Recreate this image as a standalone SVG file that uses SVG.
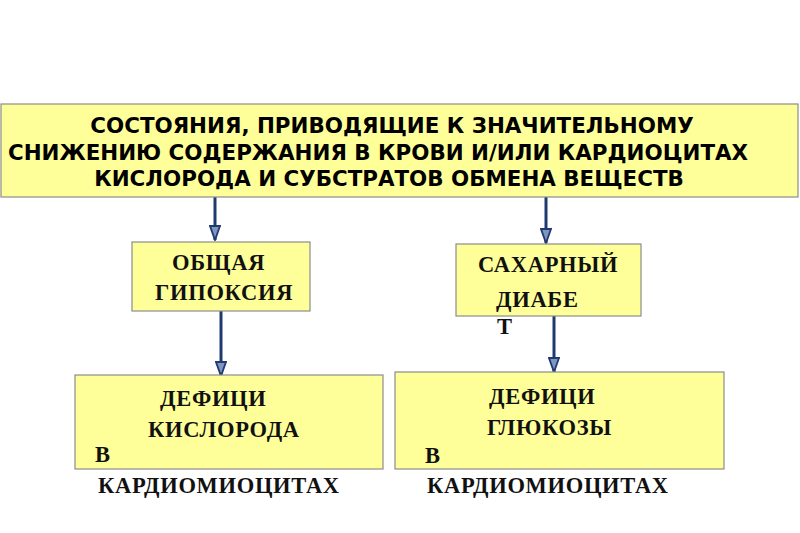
<svg xmlns="http://www.w3.org/2000/svg" width="800" height="533" viewBox="0 0 800 533">
<defs>
<style>
.box{fill:#FFFF99;stroke:#8C8C8C;stroke-width:1.2}
.hdr{font-family:"DejaVu Sans",Verdana,sans-serif;font-weight:bold;font-size:21.4px;fill:#000}
.t{font-family:"Liberation Serif","Times New Roman",serif;font-weight:bold;font-size:22.5px;fill:#111;letter-spacing:0.7px}
.c{stroke:#1F3A6E;stroke-width:3;fill:none;marker-end:url(#ah)}
</style>
<marker id="ah" viewBox="0 0 16 12" refX="15" refY="6" markerWidth="16" markerHeight="12" markerUnits="userSpaceOnUse" orient="auto">
<path d="M1,1 L15,6 L1,11 Z" fill="#7F95C2" stroke="#1F3A6E" stroke-width="1.8"/>
</marker>
</defs>
<rect width="800" height="533" fill="#FFFFFF"/>
<g id="connectors">
<line class="c" x1="215" y1="197" x2="215" y2="240"/>
<line class="c" x1="221" y1="311" x2="221" y2="376"/>
<line class="c" x1="546" y1="197" x2="546" y2="243"/>
<line class="c" x1="554" y1="316" x2="554" y2="372"/>
</g>
<g id="top">
<rect class="box" x="1" y="104" width="797" height="93"/>
<text class="hdr" x="392" y="133" text-anchor="middle">СОСТОЯНИЯ, ПРИВОДЯЩИЕ К ЗНАЧИТЕЛЬНОМУ</text>
<text class="hdr" x="378" y="160" text-anchor="middle">СНИЖЕНИЮ СОДЕРЖАНИЯ В КРОВИ И/ИЛИ КАРДИОЦИТАХ</text>
<text class="hdr" x="389" y="186" text-anchor="middle">КИСЛОРОДА И СУБСТРАТОВ ОБМЕНА ВЕЩЕСТВ</text>
</g>
<g id="hypoxia">
<rect class="box" x="132" y="242" width="178" height="69"/>
<text class="t" x="172" y="270">ОБЩАЯ</text>
<text class="t" x="155" y="300">ГИПОКСИЯ</text>
</g>
<g id="diabetes">
<rect class="box" x="456" y="244" width="185" height="72"/>
<text class="t" x="478" y="272">САХАРНЫЙ</text>
<text class="t" x="496" y="307">ДИАБЕ</text>
<text class="t" x="497" y="334">Т</text>
</g>
<g id="o2deficit">
<rect class="box" x="75" y="375" width="308" height="94"/>
<text class="t" x="160" y="406">ДЕФИЦИ</text>
<text class="t" x="148" y="437">КИСЛОРОДА</text>
<text class="t" x="95" y="462">В</text>
<text class="t" x="98" y="493">КАРДИОМИОЦИТАХ</text>
</g>
<g id="glucosedeficit">
<rect class="box" x="395" y="372" width="329" height="97"/>
<text class="t" x="489" y="404">ДЕФИЦИ</text>
<text class="t" x="487" y="435">ГЛЮКОЗЫ</text>
<text class="t" x="425" y="463">В</text>
<text class="t" x="427" y="493">КАРДИОМИОЦИТАХ</text>
</g>
</svg>
